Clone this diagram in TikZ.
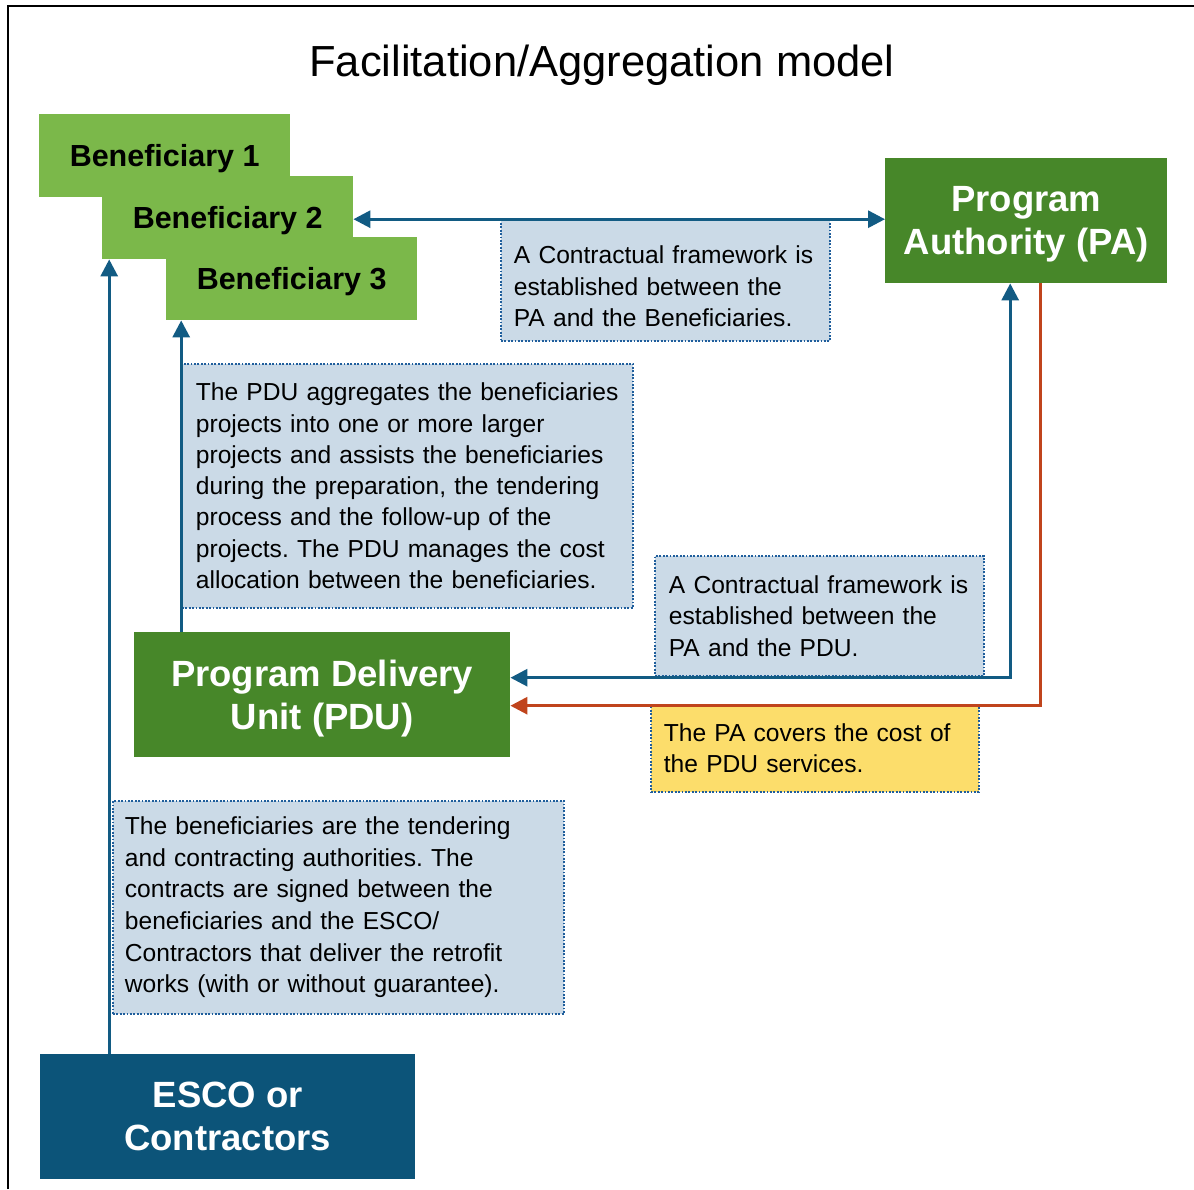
\documentclass[tikz,border=0pt]{standalone}
\usepackage{fontspec}
\setmainfont{Liberation Sans}
\usetikzlibrary{arrows.meta}
\frenchspacing

\definecolor{leafgreen}{HTML}{7BB84A}
\definecolor{darkgreen}{HTML}{478729}
\definecolor{navy}{HTML}{0C5479}
\definecolor{linkblue}{HTML}{125B83}
\definecolor{costred}{HTML}{C0441C}
\definecolor{notefill}{HTML}{CBDAE7}
\definecolor{notegold}{HTML}{FCDD6B}
\definecolor{dotblue}{HTML}{1F5E9C}

\tikzset{
  block/.style={anchor=north west, inner sep=0pt, align=center, text depth=0pt},
  benbox/.style={block, fill=leafgreen, minimum width=251pt, minimum height=83pt,
    font=\fontsize{30.5}{36}\selectfont\bfseries},
  bigbox/.style={block, minimum height=125pt, text=white,
    font=\fontsize{36.5}{43}\selectfont\bfseries},
  note/.style={anchor=north west, fill=notefill, draw=dotblue, line width=1.8pt,
    dash pattern=on 1.8pt off 1.6pt, align=left, inner ysep=0pt,
    font=\fontsize{24.6}{31.3}\selectfont},
  link/.style={draw=linkblue, line width=3pt, ->},
  costlink/.style={draw=costred, line width=3pt, ->},
}

\begin{document}
\begin{tikzpicture}[x=1pt, y=-1pt, >={Triangle[length=17pt,width=17pt]}]
  \useasboundingbox (0,0) rectangle (1194,1189);
  \fill[white] (0,0) rectangle (1194,1189);

  % outer frame (left and top edges)
  \draw[black, line width=2pt] (8,1189) -- (8,6) -- (1194,6);

  % title
  \node[font=\fontsize{43.5}{50}\selectfont] (title) at (602,65) {Facilitation/Aggregation model};

  % beneficiaries, stacked
  \node[benbox] (ben1) at (39,114) {Beneficiary 1};
  \node[benbox] (ben2) at (102,176) {Beneficiary 2};
  \node[benbox] (ben3) at (166,237) {Beneficiary 3};

  % main actors
  \node[bigbox, fill=darkgreen, minimum width=282pt] (pa) at (885,158) {Program\\Authority (PA)};
  \node[bigbox, fill=darkgreen, minimum width=376pt] (pdu) at (134,632) {Program Delivery\\Unit (PDU)};
  \node[bigbox, fill=navy, minimum width=375pt] (esco) at (40,1054) {ESCO or\\Contractors};

  % explanatory notes
  \node[note, inner xsep=13pt, text width=303pt, minimum height=121pt,
        text height=30pt] (n1) at (500,219)
    {A Contractual framework is\\established between the\\PA and the Beneficiaries.};
  \node[note, inner xsep=14pt, text width=423pt, minimum height=244pt] (n2) at (181,363)
    {The PDU aggregates the beneficiaries\\projects into one or more larger\\projects and assists the beneficiaries\\during the preparation, the tendering\\process and the follow-up of the\\projects. The PDU manages the cost\\allocation between the beneficiaries.};
  \node[note, inner xsep=14pt, text width=301pt, minimum height=120pt] (n3) at (654,555)
    {A Contractual framework is\\established between the\\PA and the PDU.};
  \node[note, fill=notegold, inner xsep=13pt, text width=302pt, minimum height=87pt] (n4) at (650,704)
    {The PA covers the cost of\\the PDU services.};
  \node[note, inner xsep=12pt, text width=427pt, minimum height=213pt,
        font=\fontsize{24.6}{31.6}\selectfont] (n5) at (112,800)
    {The beneficiaries are the tendering\\and contracting authorities. The\\contracts are signed between the\\beneficiaries and the ESCO/\\Contractors that deliver the retrofit\\works (with or without guarantee).};

  % connectors
  \draw[link, <->]
    ([yshift=-1.5pt]ben2.east) -- ([yshift=-1.5pt]ben2.east -| pa.west);
  \coordinate (escoTop) at ([xshift=-118.5pt]esco.north);
  \draw[link] (escoTop) -- (escoTop |- ben2.south);
  \coordinate (pduTop) at ([xshift=-141pt]pdu.north);
  \draw[link] (pduTop) -- (pduTop |- ben3.south);
  \draw[link, <->]
    ([yshift=17pt]pdu.east) -| ([xshift=-16pt]pa.south);
  \draw[costlink] ([xshift=14pt]pa.south) |- ([yshift=-11pt]pdu.east);
\end{tikzpicture}
\end{document}
